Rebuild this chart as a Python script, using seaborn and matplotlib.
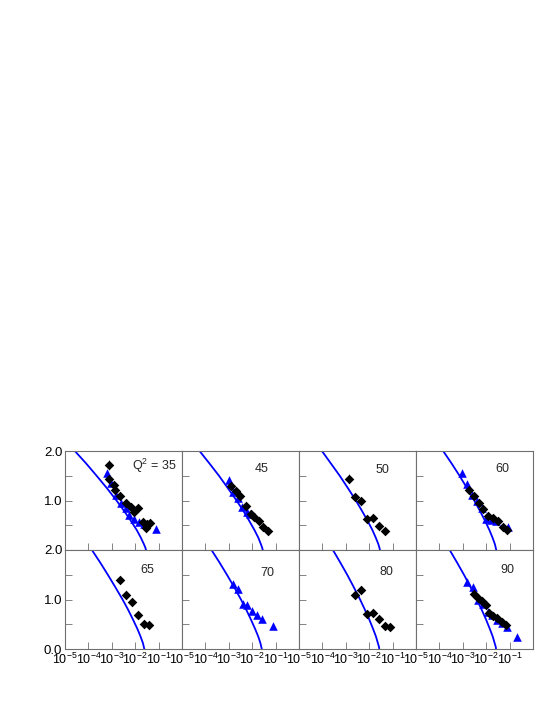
import numpy as np
import matplotlib
matplotlib.use("Agg")
import matplotlib.pyplot as plt
from matplotlib.ticker import FixedLocator, LogLocator, NullFormatter, FixedFormatter
import seaborn as sns

sns.set_style("ticks")
plt.rcParams['font.family'] = ['Liberation Sans', 'DejaVu Sans']
plt.rcParams['mathtext.fontset'] = 'custom'
plt.rcParams['mathtext.rm'] = 'Liberation Sans'
plt.rcParams['mathtext.it'] = 'Liberation Sans:italic'

# Q^2 of every panel (top row, then bottom row)
q2_values = [35, 45, 50, 60, 65, 70, 80, 90]

# data, x kept as log10(x)
dia_35_lx = [-3.11, -3.13, -2.91, -2.88, -2.65, -2.39, -2.18, -1.89, -2.05, -1.68, -1.48, -1.54, -1.37]
dia_35_y = [1.71, 1.44, 1.32, 1.22, 1.10, 0.95, 0.87, 0.84, 0.77, 0.56, 0.53, 0.45, 0.54]
dia_35_err = [0.10, 0.04, 0.04, 0.03, 0.03, 0.03, 0.03, 0.03, 0.03, 0.03, 0.03, 0.03, 0.03]
tri_35_lx = [-3.22, -3.03, -2.82, -2.61, -2.39, -2.25, -2.04, -1.85, -1.62, -1.11]
tri_35_y = [1.56, 1.35, 1.11, 0.94, 0.84, 0.70, 0.63, 0.56, 0.52, 0.43]
cur_35_lx = [-4.58, -4.10, -3.65, -3.21, -2.80, -2.49, -2.20, -1.93, -1.76, -1.63, -1.56, -1.54]

dia_45_lx = [-2.91, -2.71, -2.52, -2.28, -2.06, -1.91, -1.71, -1.52, -1.31]
dia_45_y = [1.29, 1.20, 1.09, 0.89, 0.72, 0.67, 0.58, 0.47, 0.39]
tri_45_lx = [-2.99, -2.83, -2.59, -2.42, -2.24, -2.09]
tri_45_y = [1.42, 1.17, 1.05, 0.87, 0.77, 0.72]
cur_45_lx = [-4.25, -3.83, -3.42, -3.04, -2.67, -2.39, -2.14, -1.90, -1.74, -1.63, -1.57, -1.55]

dia_50_lx = [-2.85, -2.61, -2.35, -2.11, -1.85, -1.59, -1.32]
dia_50_y = [1.44, 1.08, 0.98, 0.63, 0.65, 0.49, 0.38]
dia_50_err = [0.09, 0.04, 0.04, 0.03, 0.03, 0.03, 0.03]
tri_50_lx = []
tri_50_y = []
cur_50_lx = [-4.02, -3.64, -3.26, -2.91, -2.57, -2.32, -2.08, -1.86, -1.72, -1.61, -1.56, -1.54]

dia_60_lx = [-2.74, -2.52, -2.31, -2.12, -1.91, -1.71, -1.50, -1.28, -1.10]
dia_60_y = [1.22, 1.09, 0.94, 0.82, 0.68, 0.65, 0.58, 0.47, 0.41]
tri_60_lx = [-3.02, -2.81, -2.62, -2.38, -2.19, -2.02, -1.81, -1.59, -1.06]
tri_60_y = [1.56, 1.33, 1.11, 0.98, 0.84, 0.63, 0.60, 0.58, 0.46]
cur_60_lx = [-3.84, -3.48, -3.14, -2.82, -2.51, -2.28, -2.06, -1.86, -1.73, -1.63, -1.59, -1.57]

dia_65_lx = [-2.65, -2.40, -2.14, -1.90, -1.63, -1.40]
dia_65_y = [1.39, 1.09, 0.94, 0.69, 0.50, 0.48]
tri_65_lx = []
tri_65_y = []
cur_65_lx = [-3.85, -3.50, -3.17, -2.85, -2.54, -2.31, -2.10, -1.90, -1.77, -1.67, -1.63, -1.61]

dia_70_lx = []
dia_70_y = []
tri_70_lx = [-2.81, -2.59, -2.41, -2.21, -2.02, -1.78, -1.60, -1.10]
tri_70_y = [1.31, 1.21, 0.91, 0.89, 0.77, 0.69, 0.61, 0.46]
cur_70_lx = [-3.74, -3.40, -3.08, -2.77, -2.48, -2.26, -2.06, -1.87, -1.74, -1.65, -1.61, -1.59]

dia_80_lx = [-2.61, -2.35, -2.11, -1.85, -1.59, -1.34, -1.11]
dia_80_y = [1.09, 1.19, 0.70, 0.72, 0.60, 0.47, 0.45]
dia_80_err = [0.08, 0.08, 0.04, 0.03, 0.03, 0.03, 0.03]
tri_80_lx = []
tri_80_y = []
cur_80_lx = [-3.55, -3.24, -2.94, -2.66, -2.39, -2.19, -2.00, -1.83, -1.71, -1.63, -1.58, -1.57]

dia_90_lx = [-2.52, -2.35, -2.17, -2.02, -1.88, -1.71, -1.53, -1.31, -1.17]
dia_90_y = [1.11, 1.04, 0.96, 0.89, 0.73, 0.67, 0.62, 0.55, 0.48]
tri_90_lx = [-2.81, -2.56, -2.34, -2.14, -1.91, -1.74, -1.53, -1.31, -1.10, -0.67]
tri_90_y = [1.36, 1.26, 0.99, 0.91, 0.75, 0.69, 0.59, 0.53, 0.44, 0.25]
cur_90_lx = [-3.56, -3.25, -2.95, -2.67, -2.40, -2.20, -2.01, -1.84, -1.72, -1.64, -1.59, -1.58]

# y levels at which the curves were read
cur_y = [2.0, 1.75, 1.5, 1.25, 1.0, 0.8, 0.6, 0.4, 0.25, 0.12, 0.04, 0.0]

x_ticks = [1e-5, 1e-4, 1e-3, 1e-2, 1e-1, 1e0]
x_labels = ['$10^{-5}$', '$10^{-4}$', '$10^{-3}$', '$10^{-2}$', '$10^{-1}$', '']
y_ticks = [0.0, 0.5, 1.0, 1.5, 2.0]

panels = [
    (dia_35_lx, dia_35_y, dia_35_err, tri_35_lx, tri_35_y, cur_35_lx),
    (dia_45_lx, dia_45_y, None, tri_45_lx, tri_45_y, cur_45_lx),
    (dia_50_lx, dia_50_y, dia_50_err, tri_50_lx, tri_50_y, cur_50_lx),
    (dia_60_lx, dia_60_y, None, tri_60_lx, tri_60_y, cur_60_lx),
    (dia_65_lx, dia_65_y, None, tri_65_lx, tri_65_y, cur_65_lx),
    (dia_70_lx, dia_70_y, None, tri_70_lx, tri_70_y, cur_70_lx),
    (dia_80_lx, dia_80_y, dia_80_err, tri_80_lx, tri_80_y, cur_80_lx),
    (dia_90_lx, dia_90_y, None, tri_90_lx, tri_90_y, cur_90_lx),
]
label_pos = [(0.76, 0.85), (0.68, 0.82), (0.71, 0.81), (0.74, 0.82),
             (0.70, 0.80), (0.73, 0.77), (0.75, 0.78), (0.78, 0.80)]

blue = '#0000ff'
frame = '#6f6f6f'

fig = plt.figure(figsize=(5.45, 7.05), dpi=100)
left, w = 65 / 545, 117 / 545
h = 99 / 705
bot = 1 - 649 / 705

for i, (dlx, dy, derr, tlx, ty, clx) in enumerate(panels):
    row, col = divmod(i, 4)
    ax = fig.add_axes([left + col * w, bot + (1 - row) * h, w, h])
    ax.set_xscale('log')

    sns.lineplot(x=10 ** np.array(clx), y=cur_y, sort=False, estimator=None,
                 color=blue, lw=1.3, ax=ax)
    if derr is not None:
        ax.errorbar(10 ** np.array(dlx), dy, yerr=derr, fmt='none',
                    ecolor='#555555', elinewidth=0.6, capsize=0)
    if len(tlx):
        sns.scatterplot(x=10 ** np.array(tlx), y=ty, marker='^', s=38,
                        color=blue, edgecolor=blue, linewidth=0, ax=ax, zorder=3)
    if len(dlx):
        sns.scatterplot(x=10 ** np.array(dlx), y=dy, marker='D', s=24,
                        color='black', edgecolor='black', linewidth=0, ax=ax, zorder=4)

    ax.set_xlim(1e-5, 1)
    ax.set_ylim(0, 2)
    ax.xaxis.set_major_locator(FixedLocator(x_ticks))
    ax.xaxis.set_minor_locator(LogLocator(base=10, subs=np.arange(2, 10)))
    ax.xaxis.set_minor_formatter(NullFormatter())
    ax.yaxis.set_major_locator(FixedLocator(y_ticks))

    if row == 1:
        ax.xaxis.set_major_formatter(FixedFormatter(x_labels))
    else:
        ax.xaxis.set_major_formatter(NullFormatter())
    if col == 0:
        ylab = ['0.0', '', '1.0', '', '2.0'] if row == 1 else ['', '', '1.0', '', '2.0']
        ax.yaxis.set_major_formatter(FixedFormatter(ylab))
    else:
        ax.yaxis.set_major_formatter(NullFormatter())

    ax.tick_params(which='both', direction='in', top=False, right=False,
                   color=frame, width=0.6, labelsize=9.5, labelcolor='black', pad=2)
    ax.tick_params(axis='x', labelsize=9, pad=2)
    ax.tick_params(which='major', length=5)
    ax.tick_params(which='minor', length=2.5)
    for sp in ax.spines.values():
        sp.set_visible(True)
        sp.set_color(frame)
        sp.set_linewidth(0.8)

    txt = 'Q$^2$ = %d' % q2_values[i] if i == 0 else '%d' % q2_values[i]
    ax.text(label_pos[i][0], label_pos[i][1], txt, transform=ax.transAxes,
            ha='center', va='center', fontsize=9)
    ax.set_xlabel('')
    ax.set_ylabel('')

fig.savefig('out.png', dpi=100)
